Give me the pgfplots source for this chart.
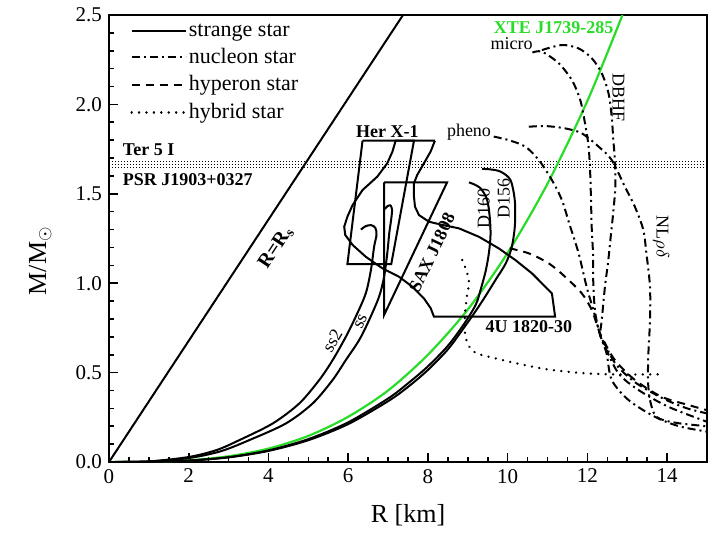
\documentclass[border=0pt]{standalone}
\usepackage{fontspec}
\setmainfont{Liberation Serif}
\usepackage{pgfplots}
\pgfplotsset{compat=1.18}
\definecolor{xtegreen}{RGB}{40,220,40}
\newcommand\af{\fontsize{9}{10}\selectfont}
\tikzset{
 cur/.style={line width=1pt, black},
 dd/.style={line width=1pt, black, dash pattern=on 4pt off 2pt on 1pt off 2pt},
 dsh/.style={line width=1pt, black, dash pattern=on 4pt off 3pt},
 dt/.style={line width=1.3pt, black, line cap=round, dash pattern=on 0.01pt off 3.7pt},
 band/.style={line width=0.7pt, black, dash pattern=on 0.7pt off 0.8pt},
}
\begin{document}
\begin{tikzpicture}
\begin{axis}[
  width=299pt, height=223.5pt, scale only axis,
  xmin=0, xmax=15, ymin=0, ymax=2.5,
  xtick={0,2,4,6,8,10,12,14}, ytick={0,0.5,1,1.5,2,2.5},
  minor x tick num=3, minor y tick num=4,
  tick align=inside, xtick pos=left, ytick pos=left,
  major tick length=4.5pt, minor tick length=2.5pt,
  axis line style={line width=1pt},
  every tick/.style={black, line width=0.8pt},
  /pgf/number format/assume math mode=true,
  yticklabel style={/pgf/number format/.cd, fixed, fixed zerofill, precision=1},
  tick label style={font=\fontsize{10.5}{12}\selectfont},
  xlabel={R [km]}, ylabel={M/M\textsubscript{$\odot$}},
  label style={font=\fontsize{13}{15}\selectfont},
  xlabel style={at={(axis description cs:0.5,-0.12)}, anchor=center},
  ylabel style={at={(axis description cs:-0.115,0.45)}, anchor=center},
  legend style={draw=none, fill=none, at={(axis description cs:0.035,0.995)}, anchor=north west,
     inner xsep=0pt, inner ysep=2pt, nodes={inner sep=1pt},
     font=\fontsize{11}{13}\selectfont, row sep=2.6pt},
  legend cell align=left,
  legend image code/.code={\draw[#1] (0pt,0pt) -- (27pt,0pt);},
]
\addlegendimage{cur}\addlegendentry{strange star}
\addlegendimage{dd}\addlegendentry{nucleon star}
\addlegendimage{dsh}\addlegendentry{hyperon star}
\addlegendimage{dt}\addlegendentry{hybrid star}

% R = R_s
\addplot[cur, forget plot] coordinates {(0,0) (7.375,2.5)};
% observational band
\addplot[band, forget plot] coordinates {(0,1.681) (15,1.681)};
\addplot[band, forget plot] coordinates {(0,1.665) (15,1.665)};
\addplot[band, forget plot] coordinates {(0,1.647) (15,1.647)};

% XTE J1739-285
\addplot[line width=1.1pt, xtegreen, smooth, forget plot] coordinates {
(0,0) (1,0.0012) (2,0.0094) (3,0.032) (4,0.075) (5,0.146) (6,0.253) (7,0.40) (8,0.60) (9,0.853) (10,1.17) (11,1.557) (12,2.02) (12.88,2.5)};

% strange stars
\addplot[cur, smooth, forget plot] coordinates {
(0,0) (1,0.0035) (2,0.028) (2.7,0.067) (3.275,0.123) (4.11,0.216) (4.775,0.328) (5.275,0.459) (5.61,0.57) (5.94,0.70) (6.19,0.813) (6.44,0.943) (6.57,1.074) (6.65,1.204) (6.71,1.27) (6.68,1.31) (6.57,1.325) (6.43,1.318) (6.32,1.30)};
\addplot[cur, smooth, forget plot] coordinates {
(0,0) (1,0.003) (2,0.022) (2.8,0.06) (3.525,0.123) (4.44,0.216) (5.11,0.328) (5.61,0.459) (5.94,0.57) (6.275,0.682) (6.525,0.794) (6.775,0.925) (6.9,1.036) (6.98,1.167) (7.03,1.28) (7.08,1.36) (7.1,1.41) (7.06,1.435) (6.98,1.43) (6.92,1.415)};
\addplot[cur, smooth, forget plot] coordinates {
(0,0) (1,0.001) (2,0.008) (3,0.027) (4,0.065) (5,0.128) (6,0.222) (7,0.355) (7.5,0.44) (8,0.535) (8.5,0.65) (8.9,0.77) (9.2,0.88) (9.33,0.97) (9.45,1.07) (9.53,1.17) (9.57,1.27) (9.55,1.37) (9.48,1.47) (9.3,1.535) (9.03,1.564)};
\addplot[cur, smooth, forget plot] coordinates {
(0,0) (1,0.001) (2,0.008) (3,0.026) (4,0.062) (5,0.122) (6,0.212) (7,0.34) (7.5,0.42) (8,0.515) (8.5,0.63) (8.9,0.75) (9.2,0.845) (9.45,0.93) (9.7,1.02) (9.95,1.11) (10.1,1.2) (10.18,1.32) (10.18,1.46) (10.07,1.577) (9.82,1.624) (9.55,1.637) (9.36,1.639)};

% Her X-1
\addplot[cur, forget plot] coordinates {(6.36,1.797) (7.65,1.797) (7.08,1.107) (5.98,1.107) (6.36,1.797)};
% 4U 1820-30
\addplot[cur, forget plot] coordinates {
(8.175,1.797) (8.067,1.736) (7.9,1.671) (7.73,1.605) (7.65,1.559) (7.65,1.484) (7.675,1.428) (7.775,1.381) (8.025,1.344) (8.36,1.326) (8.775,1.307) (9.275,1.26) (9.775,1.195) (10.19,1.13) (10.61,1.055) (11.11,0.943) (11.19,0.813)
(8.15,0.813) (8.07,0.86) (7.9,0.915) (7.61,0.98) (7.275,1.036) (6.86,1.083) (6.44,1.148) (6.11,1.214) (5.925,1.27) (5.9,1.316) (5.98,1.372) (6.11,1.437) (6.36,1.521) (6.73,1.596) (6.98,1.671) (7.11,1.736) (7.19,1.797) (8.175,1.797)};
% SAX J1808
\addplot[cur, forget plot] coordinates {(6.9,1.564) (8.48,1.564) (6.9,0.822) (6.9,1.564)};

% nucleon stars
\addplot[dd, smooth, forget plot] coordinates {% micro
(10.62,2.29) (10.86,2.295) (11.28,2.23) (11.61,2.136) (11.82,2.025) (11.94,1.894) (12.03,1.764) (12.07,1.615) (12.09,1.465) (12.11,1.30) (12.14,1.167) (12.15,0.98) (12.2,0.83) (12.32,0.71) (12.44,0.645) (12.78,0.496) (13.28,0.403) (14.03,0.309) (15,0.225)};
\addplot[dd, smooth, forget plot] coordinates {% DBHF
(10.86,2.304) (11.36,2.332) (11.78,2.313) (12.11,2.258) (12.36,2.174) (12.53,2.062) (12.61,1.93) (12.65,1.80) (12.69,1.689) (12.7,1.54) (12.65,1.40) (12.58,1.25) (12.52,1.12) (12.44,0.98) (12.36,0.794) (12.32,0.71) (12.42,0.665) (12.72,0.545) (13.2,0.445) (13.9,0.355) (14.5,0.30) (15,0.272)};
\addplot[dd, smooth, forget plot] coordinates {% pheno
(9.65,1.82) (10.03,1.80) (10.44,1.764) (10.78,1.689) (11.11,1.577) (11.36,1.465) (11.55,1.33) (11.78,1.167) (11.98,0.98) (12.15,0.85) (12.32,0.71) (12.48,0.608) (12.61,0.459) (13.03,0.347) (13.69,0.253) (14.3,0.2) (15,0.17)};
\addplot[dd, smooth, forget plot] coordinates {% NL rho delta
(10.53,1.875) (10.94,1.879) (11.44,1.866) (11.86,1.838) (12.28,1.764) (12.61,1.689) (12.94,1.54) (13.19,1.428) (13.4,1.30) (13.48,1.167) (13.57,0.98) (13.57,0.794) (13.53,0.608) (13.52,0.459) (13.57,0.347) (13.73,0.253) (14.2,0.22) (15,0.2)};
% hyperon star
\addplot[dsh, smooth, forget plot] coordinates {
(10.05,1.195) (10.53,1.167) (11.03,1.111) (11.44,1.036) (11.86,0.943) (12.11,0.85) (12.28,0.74) (12.4,0.682) (12.69,0.57) (13.19,0.459) (13.86,0.365) (14.53,0.319) (15,0.29)};
% hybrid star
\addplot[dt, smooth, forget plot] coordinates {
(8.86,1.13) (8.98,1.06) (9.03,1.0) (8.98,0.93) (8.93,0.83) (8.92,0.74) (9.0,0.66) (9.2,0.61) (9.6,0.585) (10.2,0.553) (11.0,0.518) (11.9,0.497) (12.7,0.49) (13.9,0.49)};

% annotations
\node[font=\af\bfseries] at (axis cs:6.98,1.85) {Her X-1};
\node[font=\af\bfseries, rotate=64.6] at (axis cs:8.1,1.17) {SAX J1808};
\node[font=\af\bfseries] at (axis cs:10.53,0.757) {4U 1820-30};
\node[font=\af\bfseries, text=xtegreen] at (axis cs:11.15,2.43) {XTE J1739-285};
\node[font=\af\bfseries, anchor=west, inner sep=0pt] at (axis cs:0.34,1.745) {Ter 5 I};
\node[font=\af\bfseries, anchor=west, inner sep=0pt] at (axis cs:0.34,1.577) {PSR J1903+0327};
\node[font=\af] at (axis cs:10.1,2.34) {micro};
\node[font=\af] at (axis cs:9.03,1.847) {pheno};
\node[font=\af, rotate=-90] at (axis cs:12.78,2.04) {DBHF};
\node[font=\af, rotate=-90] at (axis cs:13.85,1.26) {NL$\rho\delta$};
\node[font=\af, rotate=90] at (axis cs:9.4,1.42) {D160};
\node[font=\af, rotate=90] at (axis cs:9.9,1.475) {D156};
\node[font=\af, rotate=60] at (axis cs:5.6,0.68) {ss2};
\node[font=\af, rotate=65] at (axis cs:6.32,0.785) {ss};
\node[font=\fontsize{10}{12}\selectfont\bfseries, rotate=56.7] at (axis cs:4.19,1.2) {R=R\textsubscript{s}};

\coordinate (sw) at (rel axis cs:0,0);
\coordinate (ne) at (rel axis cs:1,1);
\end{axis}
\pgfresetboundingbox
\path ([shift={(-54.5pt,-35pt)}]sw) rectangle ([shift={(2pt,7.5pt)}]ne);
\end{tikzpicture}
\end{document}
